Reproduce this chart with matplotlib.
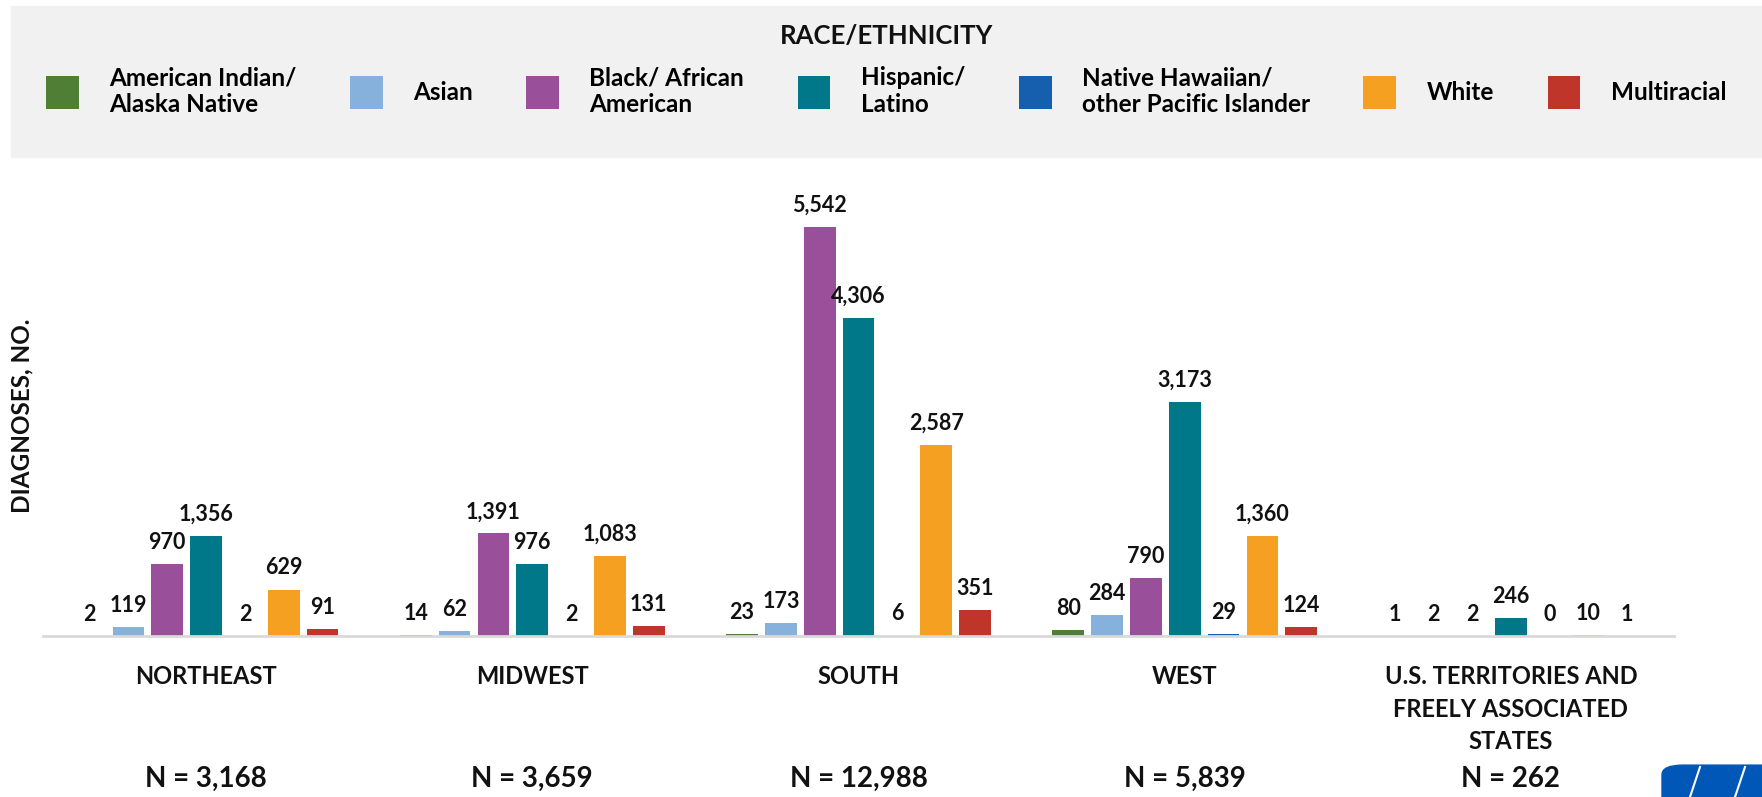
import matplotlib
matplotlib.use("Agg")
import matplotlib.pyplot as plt
from matplotlib.patches import Patch, Rectangle, FancyBboxPatch
import numpy as np

plt.rcParams['font.family'] = ['Lato', 'DejaVu Sans']

# regions (x categories) and totals under them
regions = ['NORTHEAST', 'MIDWEST', 'SOUTH', 'WEST',
           'U.S. TERRITORIES AND\nFREELY ASSOCIATED\nSTATES']
totals = [3168, 3659, 12988, 5839, 262]

# series, one per race/ethnicity
groups = ['American Indian/\nAlaska Native', 'Asian', 'Black/ African\nAmerican',
          'Hispanic/\nLatino', 'Native Hawaiian/\nother Pacific Islander',
          'White', 'Multiracial']
aian = [2, 14, 23, 80, 1]
asian = [119, 62, 173, 284, 2]
black = [970, 1391, 5542, 790, 2]
hispanic = [1356, 976, 4306, 3173, 246]
nhopi = [2, 2, 6, 29, 0]
white = [629, 1083, 2587, 1360, 10]
multi = [91, 131, 351, 124, 1]
series = [aian, asian, black, hispanic, nhopi, white, multi]
colors = ['#4f7f35', '#86b1dc', '#9a4f9b', '#00788a', '#155fae', '#f5a020', '#c0352a']

W, H = 1762, 797
fig = plt.figure(figsize=(W / 100, H / 100), dpi=100)
ax = fig.add_axes([43 / W, 161 / H, (1674 - 43) / W, 457.6 / H])

x = np.arange(len(regions))
pitch = 0.119
bw = 0.097
for k, (vals, col) in enumerate(zip(series, colors)):
    xs = x + (k - 3) * pitch
    bars = ax.bar(xs, vals, width=bw, color=col, zorder=2)
    for b, v in zip(bars, vals):
        ax.annotate(f'{v:,}', (b.get_x() + b.get_width() / 2, v),
                    xytext=(0, 8), textcoords='offset points',
                    ha='center', va='bottom', fontsize=15.5, fontweight='bold',
                    color='#111111')

ax.set_xlim(-0.5, 4.5)
ax.set_ylim(0, 6200)
for s in ['top', 'right', 'left']:
    ax.spines[s].set_visible(False)
ax.spines['bottom'].set_color('#d9d9d9')
ax.spines['bottom'].set_linewidth(2)
ax.set_yticks([])
ax.set_xticks(x)
ax.set_xticklabels(regions, fontsize=17, fontweight='bold', linespacing=1.5,
                   color='#111111')
ax.tick_params(axis='x', length=0, pad=21)

tr = ax.get_xaxis_transform()
for i, n in enumerate(totals):
    ax.text(i, -0.313, f'N = {n:,}', transform=tr, ha='center', va='center',
            fontsize=20, fontweight='bold', color='#111111')

fig.text(22 / W, 1 - 416 / H, 'DIAGNOSES, NO.', rotation=90, ha='center',
         va='center', fontsize=17.5, fontweight='bold', color='#111111')

# legend panel
fig.patches.append(Rectangle((11 / W, 1 - 157 / H), 1, 151 / H,
                             transform=fig.transFigure, color='#f1f1f1', zorder=0))
fig.text(887 / W, 1 - 36 / H, 'RACE/ETHNICITY', ha='center', va='center',
         fontsize=18.5, fontweight='bold', color='#111111')
handles = [Patch(facecolor=c, edgecolor='none') for c in colors]
fig.legend(handles, groups, ncol=7, loc='center', bbox_to_anchor=(886 / W, 1 - 91 / H),
           frameon=False, handlelength=1.35, handleheight=1.75,
           handletextpad=1.25, columnspacing=2.2,
           prop={'weight': 'bold', 'size': 17.5})

# logo corner
logo = FancyBboxPatch((1662 / W, -0.02), 0.2, 0.06,
                      boxstyle='round,pad=0,rounding_size=0.012',
                      transform=fig.transFigure, color='#0057b8', zorder=1)
fig.patches.append(logo)
for x0 in (1690, 1735):
    fig.add_artist(plt.Line2D([x0 / W, (x0 + 10) / W], [0, 30 / H],
                              transform=fig.transFigure, color='white', lw=1.5))

fig.savefig('out.png', dpi=100, facecolor='white')
